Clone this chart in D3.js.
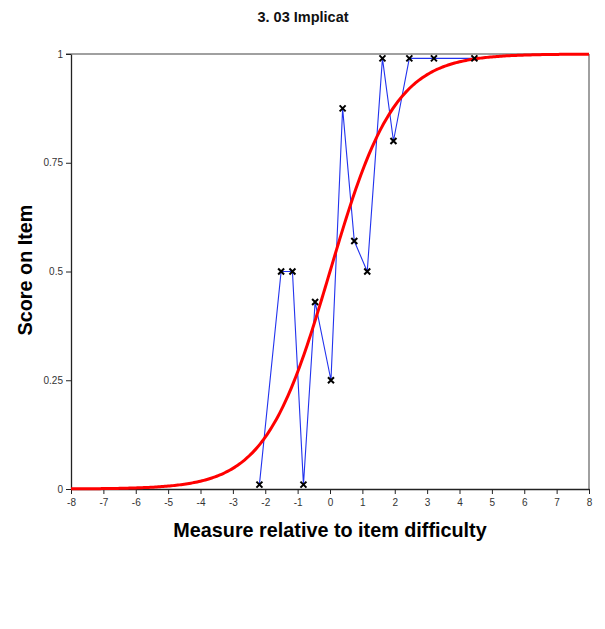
<!DOCTYPE html>
<html>
<head>
<meta charset="utf-8">
<script src="https://cdn.jsdelivr.net/npm/d3@7"></script>
<style>
  html, body { margin: 0; padding: 0; background: #fff; }
  svg { display: block; font-family: Arial, "Liberation Sans", sans-serif; }
</style>
</head>
<body>
<svg id="chart" width="605" height="629"></svg>
<script>
// Observed scores by measure relative to item difficulty
const measures = [-2.18, -1.51, -1.16, -0.82, -0.46, 0.03, 0.39, 0.75, 1.15, 1.62, 1.96, 2.45, 3.21, 4.46];
const scores   = [0.01, 0.5, 0.5, 0.01, 0.43, 0.25, 0.875, 0.57, 0.5, 0.99, 0.8, 0.99, 0.99, 0.99];

// Axis ticks
const xTicks = [-8, -7, -6, -5, -4, -3, -2, -1, 0, 1, 2, 3, 4, 5, 6, 7, 8];
const yTicks = [0, 0.25, 0.5, 0.75, 1];
const yTickLabels = ["0", "0.25", "0.5", "0.75", "1"];

// Model expected score curve (Rasch logistic), sampled across the measure range
const curveX = d3.range(-8, 8.0001, 0.05);

const svg = d3.select("#chart");
const plotLeft = 71, plotRight = 589, plotTop = 54, plotBottom = 489;

const x = d3.scaleLinear().domain([-8, 8]).range([plotLeft, plotRight]);
const y = d3.scaleLinear().domain([0, 1]).range([plotBottom, plotTop]);

// Title
svg.append("text")
  .attr("x", 303).attr("y", 22)
  .attr("text-anchor", "middle")
  .attr("font-size", 14.5).attr("font-weight", "bold")
  .attr("fill", "#111")
  .text("3. 03 Implicat");

// Frame: top and right borders in grey
svg.append("line").attr("x1", plotLeft - 5).attr("x2", plotRight).attr("y1", plotTop).attr("y2", plotTop)
  .attr("stroke", "#808080").attr("stroke-width", 1.5);
svg.append("line").attr("x1", plotRight).attr("x2", plotRight).attr("y1", plotTop).attr("y2", plotBottom)
  .attr("stroke", "#808080").attr("stroke-width", 1.5);

// X axis (plain hyphen minus signs)
const xAxis = d3.axisBottom(x).tickValues(xTicks).tickSize(5).tickSizeOuter(0).tickFormat(d => String(d));
const gx = svg.append("g").attr("transform", `translate(0,${plotBottom})`).call(xAxis);
gx.select(".domain").attr("stroke", "#222").attr("stroke-width", 1.3);
gx.selectAll(".tick line").attr("stroke", "#222");
gx.selectAll(".tick text").attr("font-size", 10).attr("fill", "#333")
  .attr("font-family", "Arial, 'Liberation Sans', sans-serif").attr("dy", "0.9em");

// Y axis
const yAxis = d3.axisLeft(y).tickValues(yTicks).tickSize(5).tickSizeOuter(0)
  .tickFormat((d, i) => yTickLabels[i]);
const gy = svg.append("g").attr("transform", `translate(${plotLeft},0)`).call(yAxis);
gy.select(".domain").attr("stroke", "#222").attr("stroke-width", 1.3);
gy.selectAll(".tick line").attr("stroke", "#222");
gy.selectAll(".tick text").attr("font-size", 10).attr("fill", "#333")
  .attr("font-family", "Arial, 'Liberation Sans', sans-serif").attr("x", -8);

// Axis titles
svg.append("text")
  .attr("x", 330).attr("y", 537)
  .attr("text-anchor", "middle")
  .attr("font-size", 19.8).attr("font-weight", "bold").attr("fill", "#000")
  .text("Measure relative to item difficulty");

svg.append("text")
  .attr("transform", "translate(32,270) rotate(-90)")
  .attr("text-anchor", "middle")
  .attr("font-size", 19.8).attr("font-weight", "bold").attr("fill", "#000")
  .text("Score on Item");

// Observed line
const line = d3.line().x((d, i) => x(measures[i])).y((d, i) => y(scores[i]));
svg.append("path")
  .datum(scores)
  .attr("d", line)
  .attr("fill", "none")
  .attr("stroke", "#2233ee")
  .attr("stroke-width", 1.1);

// Expected curve
const curve = d3.line().x(d => x(d)).y(d => y(1 / (1 + Math.exp(-d))));
svg.append("path")
  .datum(curveX)
  .attr("d", curve)
  .attr("fill", "none")
  .attr("stroke", "#ff0000")
  .attr("stroke-width", 3);

// Observed point markers (x shapes)
const s = 3;
svg.append("g").selectAll("path.mark")
  .data(measures)
  .join("path")
  .attr("class", "mark")
  .attr("d", (d, i) => {
    const cx = x(d), cy = y(scores[i]);
    return `M${cx - s},${cy - s}L${cx + s},${cy + s}M${cx - s},${cy + s}L${cx + s},${cy - s}`;
  })
  .attr("stroke", "#000")
  .attr("stroke-width", 2);
</script>
</body>
</html>
